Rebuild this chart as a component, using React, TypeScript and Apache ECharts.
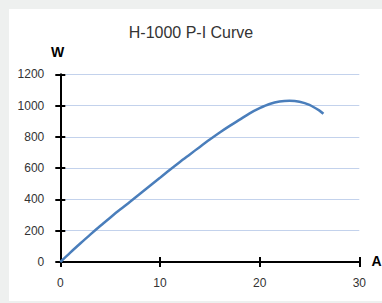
import React, { useEffect, useRef } from "react";
import * as echarts from "echarts";

const titleText = "H-1000 P-I Curve";
const xName = "A";
const yName = "W";
const currentA = [0, 1, 2, 3, 4, 5, 6, 7, 8, 9, 10, 11, 12, 13, 14, 15, 16, 17, 18, 19, 20, 21, 22, 23, 24, 25, 26, 26.4];
const powerW = [0, 60, 118, 175, 230, 283, 335, 385, 436, 487, 538, 590, 640, 688, 736, 783, 828, 870, 910, 950, 983, 1010, 1026, 1031, 1025, 1005, 968, 948];
const xMin = 0, xMax = 30, xStep = 10;
const yMin = 0, yMax = 1200, yStep = 200;

export default function App() {
  const ref = useRef<HTMLDivElement>(null);
  useEffect(() => {
    document.body.style.margin = "0";
    const chart = echarts.init(ref.current!, null, { renderer: "svg" });
    const pts = currentA.map((x, i) => [x, powerW[i]]);
    const axisLine = { show: true, onZero: false, lineStyle: { color: "#000", width: 2 } };
    const tickStyle = { lineStyle: { color: "#000", width: 2 }, length: 5 };
    const font = "Liberation Sans, Arial, sans-serif";
    chart.setOption({
      animation: false,
      backgroundColor: "#eef0ef",
      graphic: [
        { type: "rect", shape: { x: 9, y: 9, width: 373, height: 292 }, style: { fill: "#ffffff" }, z: -10 },
        { type: "text", x: 57.5, y: 52, style: { text: yName, fontSize: 14, fontWeight: "bold", fill: "#000", align: "center", verticalAlign: "middle", fontFamily: font } },
        { type: "text", x: 376.5, y: 261, style: { text: xName, fontSize: 14, fontWeight: "bold", fill: "#000", align: "center", verticalAlign: "middle", fontFamily: font } },
      ],
      title: {
        text: titleText,
        left: "center",
        top: 19,
        textStyle: { fontSize: 16, fontWeight: "normal", color: "#333", fontFamily: font },
      },
      grid: { left: 60.3, right: 22.7, top: 74.3, bottom: 41 },
      xAxis: [
        {
          type: "value", min: xMin, max: xMax, interval: xStep,
          axisLine, axisTick: { show: true, inside: false, ...tickStyle },
          axisLabel: { color: "#333", fontSize: 12, margin: 15, fontFamily: font, formatter: (v: number) => String(v) },
          splitLine: { show: false },
        },
        {
          type: "value", min: xMin, max: xMax, interval: xStep, position: "bottom",
          axisLine: { show: false }, axisTick: { show: true, inside: true, ...tickStyle },
          axisLabel: { show: false }, splitLine: { show: false },
        },
      ],
      yAxis: [
        {
          type: "value", min: yMin, max: yMax, interval: yStep,
          axisLine, axisTick: { show: true, inside: false, ...tickStyle },
          axisLabel: { color: "#333", fontSize: 12, margin: 16, fontFamily: font, formatter: (v: number) => String(v) },
          splitLine: { show: true, lineStyle: { color: "#c3d2ec", width: 1 } },
        },
        {
          type: "value", min: yMin, max: yMax, interval: yStep, position: "left",
          axisLine: { show: false }, axisTick: { show: true, inside: true, ...tickStyle },
          axisLabel: { show: false }, splitLine: { show: false },
        },
      ],
      series: [
        {
          type: "line",
          data: pts,
          smooth: 0.3,
          showSymbol: false,
          lineStyle: { color: "#4a7ebb", width: 2.5 },
          z: 1,
        },
      ],
    });
    return () => chart.dispose();
  }, []);
  return <div ref={ref} style={{ width: 382, height: 303 }} />;
}
